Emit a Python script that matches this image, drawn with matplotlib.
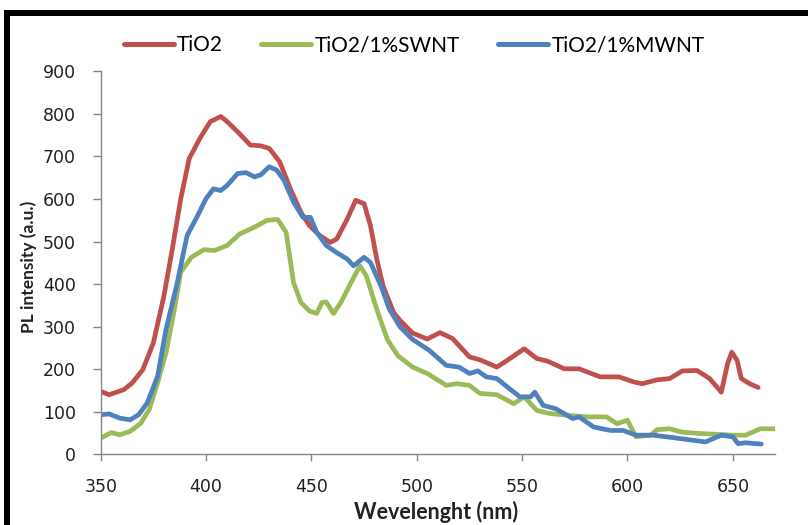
import matplotlib
matplotlib.use("Agg")
import matplotlib.pyplot as plt
from matplotlib.lines import Line2D

# ---- data ----
tio2_nm = [350, 354, 361, 365, 370, 375, 380, 384, 388, 392, 397, 402, 407, 410, 415,
           421, 426, 430, 435, 440, 445, 449, 454, 459, 462, 467, 471, 475, 478, 481,
           484, 489, 492, 498, 505, 511, 517, 525, 530, 538, 543, 551, 557, 562, 570,
           577, 587, 596, 603, 607, 614, 620, 626, 633, 639, 644.5, 647.5, 649.5, 652,
           654, 658, 662]
tio2_pl = [148, 140, 152, 168, 199, 262, 372, 483, 601, 695, 742, 782, 794, 782, 758,
           727, 725, 719, 687, 624, 569, 538, 514, 498, 506, 553, 597, 589, 538, 459,
           396, 333, 315, 285, 271, 286, 272, 229, 222, 205, 221, 248, 225, 219, 201,
           201, 182, 182, 170, 166, 175, 178, 196, 197, 178, 146, 213, 240, 221,
           178, 166, 157]

swnt_nm = [350, 355, 359, 364, 369, 373, 377, 381, 385, 388, 393, 399, 404, 410, 416,
           423, 429, 434, 438, 441.5, 445, 449, 452.5, 455, 457, 460.5, 464, 468, 473,
           476, 481, 486, 491, 498, 505, 514, 519, 525, 530, 538, 546, 551, 557, 563,
           571, 581, 590, 595, 600, 604, 611, 614, 620, 626, 634, 642, 650, 656, 663, 671]
swnt_pl = [38, 51, 46, 54, 73, 105, 168, 239, 341, 428, 463, 481, 479, 491, 518,
           534, 550, 552, 522, 404, 357, 337, 331, 357, 358, 331, 357, 396, 443,
           420, 341, 270, 232, 205, 190, 162, 166, 162, 143, 140, 119, 135, 103, 96,
           92, 88, 88, 72, 80, 41, 45, 58, 60, 52, 49, 47, 45, 45, 60, 60]

mwnt_nm = [350, 354, 359, 364, 368, 372, 377, 381, 386, 391, 396, 400, 403.5, 407, 410,
           415, 419, 423, 426, 430, 433.5, 437, 441.5, 446, 449.5, 452.5, 457, 462, 467,
           470, 475, 478, 483, 487, 492, 498, 506, 514, 520, 525, 529, 533, 538, 543,
           549, 554, 556, 560, 566, 574, 577, 584, 592, 598, 604, 612, 622, 631, 637,
           644.5, 650, 652.5, 656, 663.5]
mwnt_pl = [93, 95, 85, 81, 93, 120, 183, 294, 396, 514, 561, 601, 624, 620, 632,
           660, 662, 652, 657, 676, 668, 644, 593, 557, 557, 522, 491, 474, 459,
           443, 463, 451, 396, 341, 300, 270, 244, 209, 205, 190, 196, 182, 178, 158,
           135, 135, 146, 115, 107, 84, 88, 64, 56, 56, 45, 45, 39, 33, 29,
           45, 41, 25, 27, 24]

series_labels = ["TiO2", "TiO2/1%SWNT", "TiO2/1%MWNT"]
x_ticks = [350, 400, 450, 500, 550, 600, 650]
y_ticks = [0, 100, 200, 300, 400, 500, 600, 700, 800, 900]

colors = ["#C0504D", "#9BBB59", "#4F81BD"]

W, H = 808, 525
fig = plt.figure(figsize=(W / 100, H / 100), dpi=100)
fig.patch.set_facecolor("white")

# plot area in pixels
left_px, right_px, bottom_px, top_px = 100.7, 775, 454.3, 71.4
ax = fig.add_axes([left_px / W, 1 - bottom_px / H, (right_px - left_px) / W,
                   (bottom_px - top_px) / H])

lw = 3.4
for xs, ys, c, lab in zip([tio2_nm, swnt_nm, mwnt_nm], [tio2_pl, swnt_pl, mwnt_pl],
                          colors, series_labels):
    ax.plot(xs, ys, color=c, lw=lw, label=lab, solid_joinstyle="round",
            solid_capstyle="round")

ax.set_xlim(350, 670)
ax.set_ylim(0, 900)
ax.set_xticks(x_ticks)
ax.set_yticks(y_ticks)
for s in ["top", "right"]:
    ax.spines[s].set_visible(False)
for s in ["left", "bottom"]:
    ax.spines[s].set_color("#868686")
    ax.spines[s].set_linewidth(1.0)
ax.tick_params(axis="x", direction="out", length=5, width=1, color="#868686",
               pad=12, labelsize=12.5, labelcolor="#222222")
ax.tick_params(axis="y", direction="out", length=6, width=1, color="#868686",
               pad=12, labelsize=12.5, labelcolor="#222222")
for t in ax.get_xticklabels() + ax.get_yticklabels():
    t.set_fontfamily("DejaVu Sans")

fig.text(436 / W, 1 - 512 / H, "Wevelenght (nm)", ha="center", va="center",
         fontsize=15.5, fontweight="bold", family="Lato", color="#222222")
fig.text(29 / W, 1 - 267 / H, "PL intensity (a.u.)", ha="center", va="center",
         rotation=90, fontsize=12.5, fontweight="bold", family="Lato", color="#222222")

leg = ax.legend(loc="center", bbox_to_anchor=(414 / W, 1 - 45 / H),
                bbox_transform=fig.transFigure, ncol=3, frameon=False,
                handlelength=2.4, handletextpad=0.15, columnspacing=1.85,
                prop={"family": "Lato", "size": 15})
for h in leg.get_lines():
    h.set_linewidth(3.6)

# outer black frame (top and left edges visible)
fig.add_artist(Line2D([7 / W, 7 / W], [0, 1 - 12.5 / H], transform=fig.transFigure,
                      color="black", lw=4.3, solid_capstyle="projecting"))
fig.add_artist(Line2D([7 / W, 1], [1 - 12.5 / H, 1 - 12.5 / H],
                      transform=fig.transFigure, color="black", lw=4.3,
                      solid_capstyle="projecting"))

fig.savefig("out.png", dpi=100)
